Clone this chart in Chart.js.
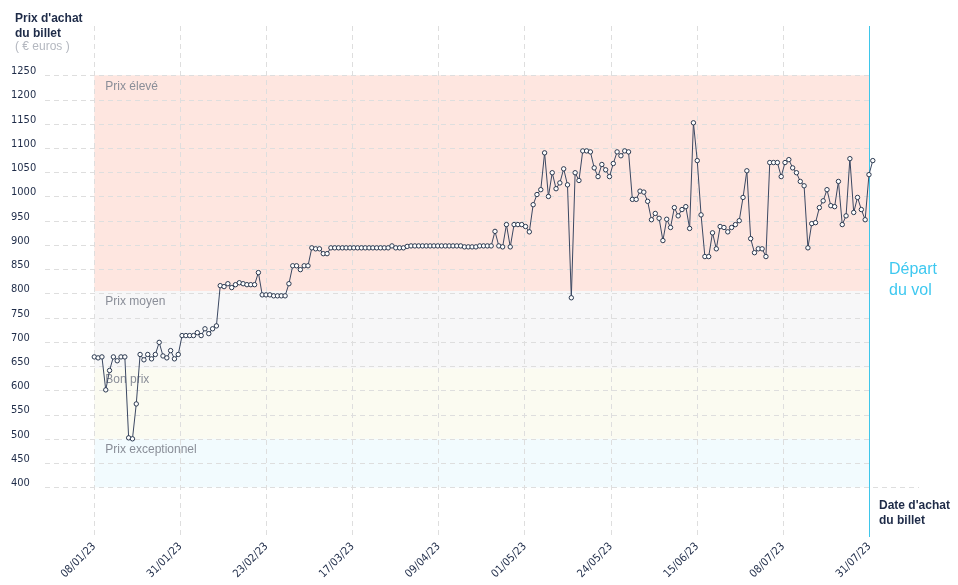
<!DOCTYPE html>
<html>
<head>
<meta charset="utf-8">
<script src="https://cdn.jsdelivr.net/npm/chart.js@4.4.1/dist/chart.umd.min.js"></script>
<style>
  html, body { margin: 0; padding: 0; background: #fff; }
  #wrap { position: relative; width: 958px; height: 585px; }
</style>
</head>
<body>
<div id="wrap"><canvas id="chart"></canvas></div>
<script>
// prix du billet relevé chaque jour, du 08/01/23 au départ
const prices = [
  669, 667, 669, 601, 641, 669, 661, 669, 669, 502,
  500, 572, 674, 663, 674, 665, 674, 699, 671, 667,
  682, 665, 674, 713, 713, 713, 713, 719, 713, 727,
  717, 727, 733, 816, 814, 820, 812, 818, 822, 820,
  818, 818, 818, 843, 797, 797, 797, 795, 795, 795,
  795, 820, 857, 857, 849, 857, 857, 894, 892, 892,
  882, 882, 894, 894, 894, 894, 894, 894, 894, 894,
  894, 894, 894, 894, 894, 894, 894, 894, 898, 894,
  894, 894, 897, 898, 898, 898, 898, 898, 898, 898,
  898, 898, 898, 898, 898, 898, 898, 896, 896, 896,
  896, 898, 898, 898, 898, 928, 898, 896, 942, 896,
  942, 942, 942, 938, 927, 983, 1004, 1014, 1090, 1000,
  1049, 1016, 1028, 1057, 1024, 791, 1049, 1033, 1094, 1094,
  1092, 1059, 1041, 1066, 1055, 1041, 1068, 1092, 1084, 1094,
  1092, 994, 994, 1011, 1009, 990, 952, 965, 955, 909,
  953, 936, 977, 960, 973, 979, 934, 1152, 1074, 962,
  876, 876, 925, 892, 938, 936, 927, 936, 942, 950,
  998, 1053, 913, 884, 892, 892, 876, 1070, 1070, 1070,
  1041, 1070, 1076, 1059, 1049, 1031, 1022, 894, 944, 946,
  977, 991, 1014, 981, 979, 1031, 942, 960, 1078, 967,
  998, 973, 952, 1045, 1074
];

// axe des dates (jours depuis le 08/01/23)
const xTickLabels = ['08/01/23', '31/01/23', '23/02/23', '17/03/23', '09/04/23',
  '01/05/23', '24/05/23', '15/06/23', '08/07/23', '31/07/23'];
const departDay = 203.1;

const yTickValues = [400, 450, 500, 550, 600, 650, 700, 750, 800, 850, 900,
  950, 1000, 1050, 1100, 1150, 1200, 1250];

// zones de prix
const bandNames = ['Prix élevé', 'Prix moyen', 'Bon prix', 'Prix exceptionnel'];
const bandTops = [1250, 805, 645, 500];
const bandBottoms = [805, 645, 500, 400];
const bandColors = ['#fee6e0', '#f7f7f8', '#fbfbf1', '#f2fbfe'];

const navy = '#1e2b48';
const gridColor = '#dedede';
const narrowFont = "'Liberation Sans Narrow', 'DejaVu Sans Condensed', 'Liberation Sans', sans-serif";
const baseFont = "'Liberation Sans', Arial, sans-serif";

const backgroundPlugin = {
  id: 'background',
  beforeDraw(chart) {
    const { ctx, chartArea, scales } = chart;
    const x = scales.x, y = scales.y;
    const x0 = x.getPixelForValue(0);
    const x1 = x.getPixelForValue(departDay);

    ctx.save();
    // zones colorées
    bandNames.forEach((name, k) => {
      const top = y.getPixelForValue(bandTops[k]);
      const bottom = y.getPixelForValue(bandBottoms[k]);
      ctx.fillStyle = bandColors[k];
      ctx.fillRect(x0, top, x1 - x0, bottom - top);
    });

    // lignes horizontales pointillées
    ctx.strokeStyle = gridColor;
    ctx.lineWidth = 1;
    ctx.setLineDash([5, 4]);
    yTickValues.forEach((v, k) => {
      const py = Math.round(y.getPixelForValue(v)) + 0.5;
      ctx.beginPath();
      ctx.moveTo(chartArea.left, py);
      ctx.lineTo(k === 0 ? chartArea.right : x1, py);
      ctx.stroke();
    });
    ctx.setLineDash([]);

    // libellés des zones
    ctx.font = '12px ' + baseFont;
    ctx.fillStyle = '#8a8e98';
    ctx.textAlign = 'left';
    ctx.textBaseline = 'middle';
    bandNames.forEach((name, k) => {
      ctx.fillText(name, x0 + 11, y.getPixelForValue(bandTops[k]) + 11);
    });
    ctx.restore();
  },
  beforeDatasetsDraw(chart) {
    const { ctx, chartArea, scales } = chart;
    const px = Math.round(scales.x.getPixelForValue(departDay)) + 0.5;
    ctx.save();
    ctx.strokeStyle = '#3ec6ea';
    ctx.lineWidth = 1;
    ctx.beginPath();
    ctx.moveTo(px, chartArea.top);
    ctx.lineTo(px, chartArea.bottom + 1);
    ctx.stroke();
    ctx.restore();
  },
  afterDraw(chart) {
    const { ctx } = chart;
    ctx.save();
    ctx.textAlign = 'left';
    ctx.textBaseline = 'middle';
    ctx.fillStyle = navy;
    ctx.font = 'bold 12px ' + baseFont;
    ctx.fillText("Prix d'achat", 15, 19);
    ctx.fillText('du billet', 15, 34);
    ctx.fillText("Date d'achat", 879, 506);
    ctx.fillText('du billet', 879, 521);
    ctx.font = '12px ' + baseFont;
    ctx.fillStyle = '#b4b8c0';
    ctx.fillText('( € euros )', 15, 47);
    ctx.font = '16px ' + baseFont;
    ctx.fillStyle = '#3ec8f0';
    ctx.fillText('Départ', 889, 270);
    ctx.fillText('du vol', 889, 291);
    ctx.restore();
  }
};

new Chart(document.getElementById('chart'), {
  type: 'line',
  data: {
    datasets: [{
      data: prices.map((p, i) => ({ x: i, y: p })),
      borderColor: '#3b4862',
      borderWidth: 1,
      pointRadius: 2.2,
      pointBorderWidth: 1,
      pointBackgroundColor: '#ffffff',
      pointBorderColor: '#2b3950',
      tension: 0,
      clip: false
    }]
  },
  options: {
    responsive: true,
    maintainAspectRatio: false,
    animation: false,
    layout: { padding: { left: 11, top: 26, right: 39, bottom: 0 } },
    plugins: {
      legend: { display: false },
      tooltip: { enabled: false }
    },
    scales: {
      x: {
        type: 'linear',
        min: -12.92,
        max: 216.11,
        afterBuildTicks: (scale) => {
          scale.ticks = xTickLabels.map((_, k) => ({ value: k * departDay / (xTickLabels.length - 1) }));
        },
        afterFit: (scale) => { scale.height = 49; },
        grid: { color: gridColor, drawTicks: false },
        border: { display: false, dash: [5, 4] },
        ticks: {
          autoSkip: false,
          minRotation: 45,
          maxRotation: 45,
          padding: 4,
          color: navy,
          font: { family: narrowFont, size: 11 },
          callback: (value, index) => xTickLabels[index]
        }
      },
      y: {
        min: 299.5,
        max: 1351.7,
        afterBuildTicks: (scale) => {
          scale.ticks = yTickValues.map(v => ({ value: v }));
        },
        afterFit: (scale) => { scale.width = 34; },
        grid: { display: false },
        border: { display: false },
        ticks: {
          crossAlign: 'far',
          padding: 0,
          labelOffset: -4,
          color: navy,
          font: { family: narrowFont, size: 11 },
          callback: (value) => String(value)
        }
      }
    }
  },
  plugins: [backgroundPlugin]
});
</script>
</body>
</html>
